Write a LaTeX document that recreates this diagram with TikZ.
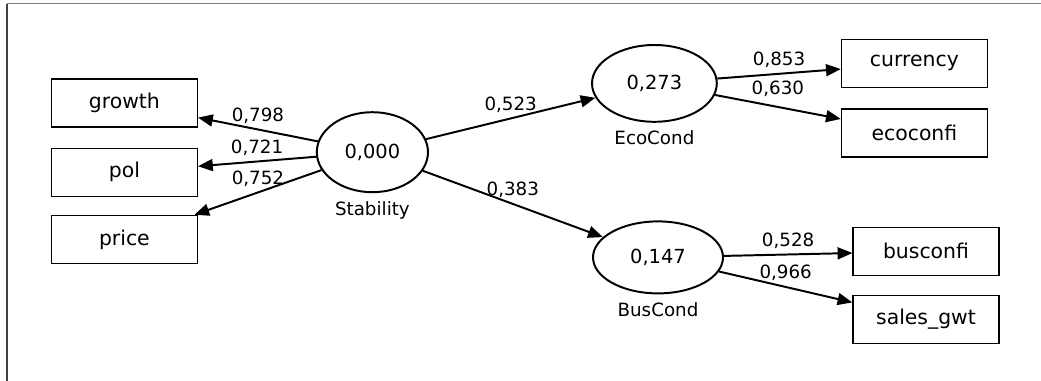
\documentclass[tikz,border=0pt]{standalone}
\usepackage{fontspec}
\setmainfont{DejaVu Sans}
\usepackage{tikz}
\usetikzlibrary{positioning,arrows.meta,shapes.geometric}
\definecolor{frmTop}{RGB}{128,128,128}
\definecolor{frmLeft}{RGB}{64,64,64}

\begin{document}
\begin{tikzpicture}[
  ind/.style={
    draw, line width=0.9pt,
    minimum width=3.65cm, minimum height=1.2cm,
    font=\fontsize{14.5}{17}\selectfont, inner sep=0pt
  },
  lv/.style={ellipse, draw, line width=1.4pt,
    font=\fontsize{13.8}{16}\selectfont, inner sep=0pt},
  nm/.style={font=\fontsize{13}{15}\selectfont, inner sep=0pt},
  cf/.style={font=\fontsize{13}{15}\selectfont, inner sep=3.5pt, above},
  a/.style={-{Triangle[length=10.5pt,width=8.5pt]},line width=1.4pt}
]
\useasboundingbox (0,0) rectangle (26.025,9.525);
% Frame
\draw[frmLeft,line width=1.3pt] (0.17,0) -- (0.17,9.43);
\draw[frmTop,line width=1pt] (0.17,9.43) -- (26.025,9.43);

% Latent variables
\node[lv,minimum width=2.78cm,minimum height=2.0cm] (stab) at (9.31,5.72) {0,000};
\node[lv,minimum width=3.12cm,minimum height=1.92cm] (eco) at (16.36,7.44) {0,273};
\node[lv,minimum width=3.25cm,minimum height=1.8cm] (bus) at (16.45,3.09) {0,147};

\node[nm,below=0.2cm of stab] {Stability};
\node[nm,below=0.2cm of eco] {EcoCond};
\node[nm,below=0.2cm of bus] {BusCond};

% Indicators, left
\node[ind] (growth) at (3.11,6.95) {growth};
\node[ind] (pol) at (3.11,5.22) {pol};
\node[ind] (price) at (3.11,3.54) {price};

% Indicators, right
\node[ind] (curr) at (22.86,7.94) {currency};
\node[ind] (ecoconf) at (22.86,6.2) {ecoconfi};
\node[ind] (busconf) at (23.15,3.24) {busconfi};
\node[ind] (sales) at (23.15,1.54) {sales\_gwt};

% Loadings
\draw[a] (stab)--(growth) node[cf,midway] {0,798};
\draw[a] (stab)--(pol) node[cf,midway] {0,721};
\draw[a] (stab)--(price) node[cf,midway] {0,752};
% Paths
\draw[a] (stab)--(eco) node[cf,midway] {0,523};
\draw[a] (stab)--(bus) node[cf,midway] {0,383};
% Loadings
\draw[a] (eco)--(curr) node[cf,midway] {0,853};
\draw[a] (eco)--(ecoconf) node[cf,midway,yshift=3pt] {0,630};
\draw[a] (bus)--(busconf) node[cf,midway] {0,528};
\draw[a] (bus)--(sales) node[cf,midway] {0,966};
\end{tikzpicture}
\end{document}
